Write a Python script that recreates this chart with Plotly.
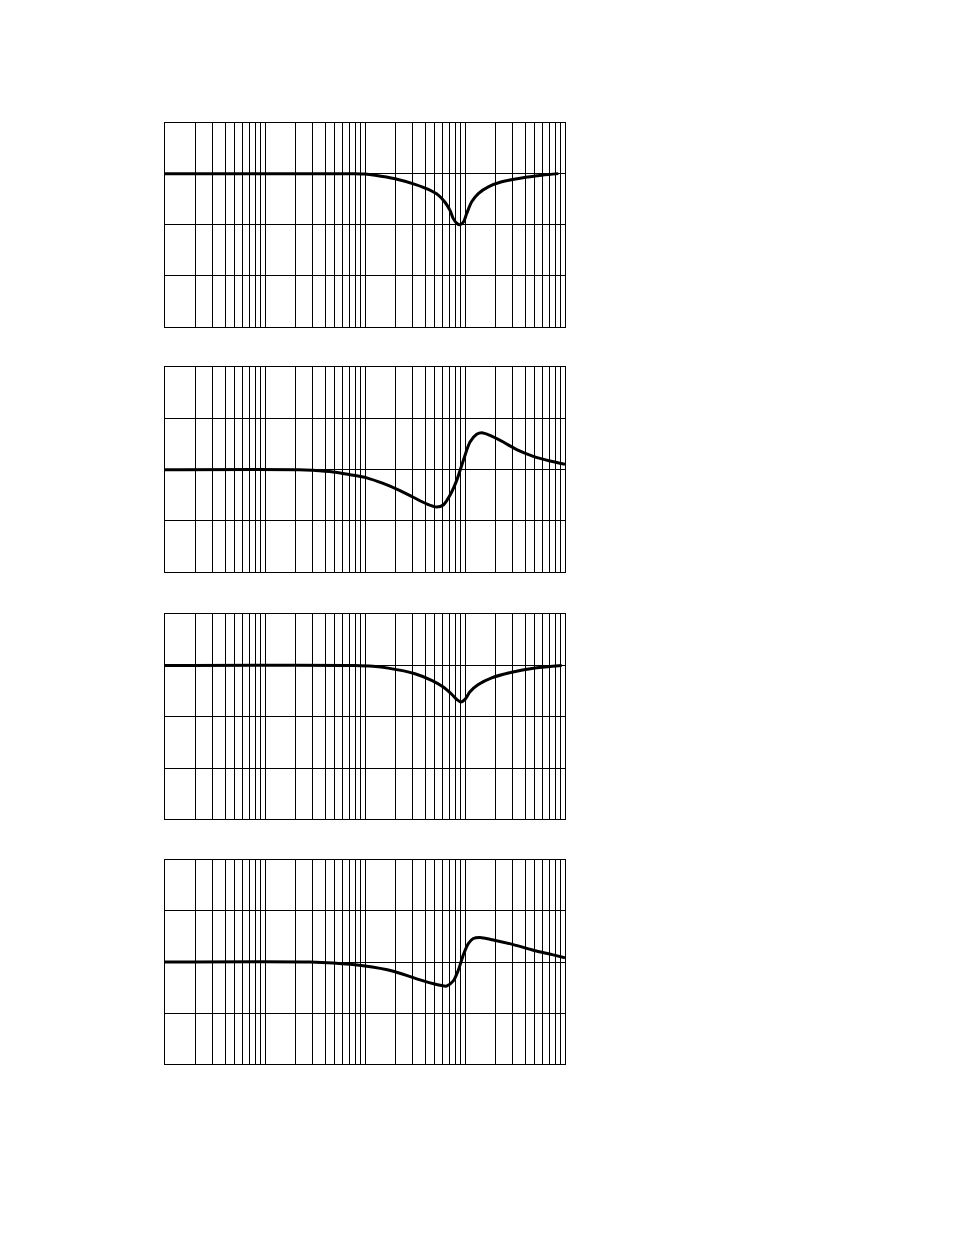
import plotly.graph_objects as go
from plotly.subplots import make_subplots

# ---------------- data (freq on log axis, level in grid units) ----------------
freq_1 = [1, 79, 100, 126, 200, 316, 430, 541, 631, 708, 764, 826, 891, 962, 1040, 1166, 1359, 1710, 2328, 3690, 5848, 8570]
level_1 = [0, 0, -0.007, -0.03, -0.1, -0.21, -0.31, -0.42, -0.56, -0.72, -0.88, -0.97, -1.0, -0.95, -0.78, -0.55, -0.39, -0.26, -0.16, -0.085, -0.033, 0]

freq_2 = [1, 22, 30, 48, 71, 104, 152, 224, 304, 414, 521, 607, 708, 826, 962, 1122, 1309, 1469, 1778, 2415, 3289, 4819, 7079, 10000]
level_2 = [0, 0, -0.013, -0.046, -0.1, -0.16, -0.27, -0.41, -0.54, -0.67, -0.73, -0.69, -0.5, -0.21, 0.18, 0.54, 0.69, 0.72, 0.67, 0.54, 0.39, 0.26, 0.17, 0.105]

freq_3 = [1, 79, 120, 171, 316, 464, 607, 736, 826, 912, 1000, 1122, 1359, 1849, 2931, 5012, 9268]
level_3 = [0, 0, -0.015, -0.05, -0.16, -0.29, -0.42, -0.56, -0.66, -0.71, -0.66, -0.51, -0.37, -0.24, -0.13, -0.05, 0]

freq_4 = [1, 28, 48, 96, 192, 329, 521, 656, 764, 857, 962, 1079, 1211, 1413, 1919, 3041, 4819, 7638, 10000]
level_4 = [0, 0, -0.02, -0.075, -0.18, -0.33, -0.44, -0.47, -0.37, -0.16, 0.14, 0.36, 0.46, 0.48, 0.43, 0.34, 0.23, 0.14, 0.084]

y_ranges = [[-3, 1], [-2, 2], [-3, 1], [-2, 2]]

# log grid: 1..9 in every decade
grid_x = [k * 10 ** d for d in range(4) for k in range(1, 10)] + [10000]

# ---------------- figure ----------------
fig = make_subplots(rows=4, cols=1)

series = [(freq_1, level_1), (freq_2, level_2), (freq_3, level_3), (freq_4, level_4)]
for i, (fx, fy) in enumerate(series):
    fig.add_trace(go.Scatter(x=fx, y=fy, mode='lines', line=dict(color='black', width=3, shape='spline', smoothing=0.8),
                             showlegend=False, hoverinfo='skip'), row=i + 1, col=1)

# panel positions in screen pixels (top, bottom); the page body adds an 8px offset
panels_px = [(122.5, 327), (367.3, 572), (614.3, 819.3), (859.7, 1064.3)]
H = 1235
W = 954
OFF = 8
for i, (top, bot) in enumerate(panels_px):
    fig.update_xaxes(type='log', range=[0, 4], domain=[(165 - OFF) / W, (565 - OFF) / W], tickvals=grid_x,
                     showticklabels=False, ticks='', showgrid=True, gridcolor='black', gridwidth=1, showline=True,
                     mirror=True, linecolor='black', linewidth=1, zeroline=False, row=i + 1, col=1)
    fig.update_yaxes(range=y_ranges[i], domain=[1 - (bot - OFF) / H, 1 - (top - OFF) / H], dtick=1,
                     showticklabels=False, ticks='', showgrid=True, gridcolor='black', gridwidth=1, showline=True,
                     mirror=True, linecolor='black', linewidth=1, zeroline=False, row=i + 1, col=1)

fig.update_layout(width=W, height=H, margin=dict(l=0, r=0, t=0, b=0),
                  paper_bgcolor='white', plot_bgcolor='white')

fig.write_html("out.html")
